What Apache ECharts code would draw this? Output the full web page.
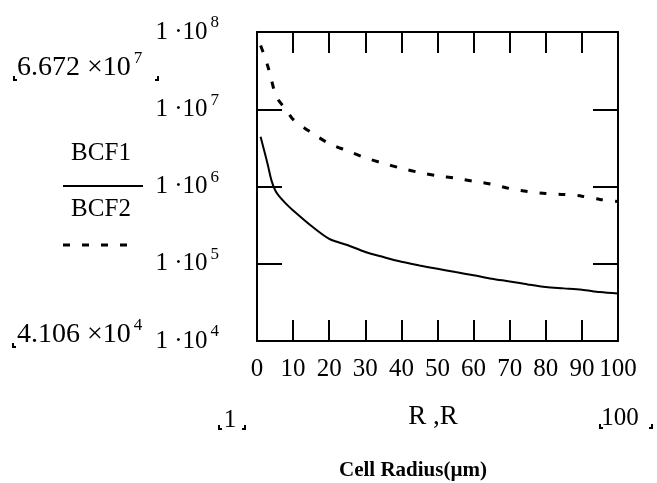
<!DOCTYPE html>
<html>
<head>
<meta charset="utf-8">
<script src="https://cdn.jsdelivr.net/npm/echarts@6/dist/echarts.min.js"></script>
<style>
  html, body { margin: 0; padding: 0; background: #fff; }
  #chart { width: 657px; height: 483px; }
</style>
</head>
<body>
<div id="chart"></div>
<script>
// cell radius (µm)
const rValues = [1, 2, 3, 4, 5, 6, 8, 10, 15, 20, 25, 30, 35, 40, 45, 50, 55, 60, 65, 70, 75, 80, 85, 90, 95, 100]
// BCF1 - solid line
const bcf1 = [4.4e6, 2.9e6, 1.9e6, 1.2e6, 9.0e5, 7.6e5, 6.0e5, 4.9e5, 3.1e5, 2.1e5, 1.75e5, 1.42e5, 1.22e5, 1.06e5, 9.5e4, 8.6e4, 7.8e4, 7.1e4, 6.4e4, 5.9e4, 5.4e4, 5.0e4, 4.8e4, 4.6e4, 4.3e4, 4.106e4]
// BCF2 - dashed line
const bcf2 = [6.672e7, 5.0e7, 3.6e7, 2.4e7, 1.6e7, 1.3e7, 1.0e7, 7.4e6, 5.0e6, 3.6e6, 2.9e6, 2.35e6, 2.0e6, 1.72e6, 1.52e6, 1.38e6, 1.28e6, 1.17e6, 1.07e6, 9.4e5, 8.6e5, 8.1e5, 7.9e5, 7.5e5, 6.8e5, 6.4e5]
const xTicks = [0, 10, 20, 30, 40, 50, 60, 70, 80, 90, 100]

const font = '"Liberation Serif", "DejaVu Serif", serif'
const chart = echarts.init(document.getElementById('chart'))

const pair = (xs, ys) => xs.map((x, i) => [x, ys[i]])

// little corner marks that mathcad puts round range labels
const corner = (x, y, left) => ({
  type: 'polyline',
  shape: { points: left ? [[x, y - 4], [x, y], [x + 3, y]] : [[x - 3, y], [x, y], [x, y - 4]] },
  style: { stroke: '#000', lineWidth: 2, fill: null }
})

const supRich = {
  a: { fontSize: 25, fontFamily: font, color: '#000' },
  s: { fontSize: 17, fontFamily: font, color: '#000', padding: [0, 0, 18, 3] }
}

const option = {
  animation: false,
  backgroundColor: '#fff',
  grid: { left: 257, right: 39, top: 32, bottom: 142 },
  xAxis: [
    {
      type: 'value', min: 0, max: 100, interval: 10,
      axisLine: { onZero: false, lineStyle: { color: '#000', width: 2 } },
      axisTick: { inside: true, length: 21, lineStyle: { color: '#000', width: 2 } },
      axisLabel: {
        margin: 16, color: '#000', fontFamily: font, fontSize: 25,
        formatter: v => xTicks.includes(v) ? String(v) : ''
      },
      splitLine: { show: false }
    },
    {
      type: 'value', position: 'top', min: 0, max: 100, interval: 10,
      axisLine: { onZero: false, lineStyle: { color: '#000', width: 2 } },
      axisTick: { inside: true, length: 21, lineStyle: { color: '#000', width: 2 } },
      axisLabel: { show: false },
      splitLine: { show: false }
    }
  ],
  yAxis: [
    {
      type: 'log', logBase: 10, min: 1e4, max: 1e8, splitNumber: 4,
      axisLine: { show: true, onZero: false, lineStyle: { color: '#000', width: 2 } },
      axisTick: { show: true, inside: true, length: 25, lineStyle: { color: '#000', width: 2 } },
      axisLabel: {
        margin: 38, color: '#000', fontFamily: font,
        formatter: v => '{a|1 ·10}{s|' + Math.round(Math.log10(v)) + '}',
        rich: supRich
      },
      splitLine: { show: false }
    },
    {
      type: 'log', logBase: 10, min: 1e4, max: 1e8, splitNumber: 4, position: 'right',
      axisLine: { show: true, onZero: false, lineStyle: { color: '#000', width: 2 } },
      axisTick: { show: true, inside: true, length: 25, lineStyle: { color: '#000', width: 2 } },
      axisLabel: { show: false },
      splitLine: { show: false }
    }
  ],
  series: [
    {
      name: 'BCF1', type: 'line', smooth: 0.3, showSymbol: false,
      data: pair(rValues, bcf1),
      lineStyle: { color: '#000', width: 2 }
    },
    {
      name: 'BCF2', type: 'line', smooth: 0.3, showSymbol: false,
      data: pair(rValues, bcf2),
      lineStyle: { color: '#000', width: 3, type: [7, 12] }
    }
  ],
  graphic: [
    // data range labels
    {
      type: 'text', left: 17, top: 50,
      style: {
        text: '{a|6.672 ×10}{s|7}', fill: '#000',
        rich: {
          a: { fontSize: 28, fontFamily: font, fill: '#000' },
          s: { fontSize: 17, fontFamily: font, fill: '#000', padding: [0, 0, 18, 3] }
        }
      }
    },
    corner(14, 80, true), corner(158, 80, false),
    {
      type: 'text', left: 17, top: 317,
      style: {
        text: '{a|4.106 ×10}{s|4}', fill: '#000',
        rich: {
          a: { fontSize: 28, fontFamily: font, fill: '#000' },
          s: { fontSize: 17, fontFamily: font, fill: '#000', padding: [0, 0, 18, 3] }
        }
      }
    },
    corner(13, 347, true),
    // legend
    { type: 'text', x: 101, y: 153, style: { text: 'BCF1', fontSize: 25, fontFamily: font, fill: '#000', align: 'center', verticalAlign: 'middle' } },
    { type: 'line', shape: { x1: 63, y1: 186, x2: 143, y2: 186 }, style: { stroke: '#000', lineWidth: 2 } },
    { type: 'text', x: 101, y: 209, style: { text: 'BCF2', fontSize: 25, fontFamily: font, fill: '#000', align: 'center', verticalAlign: 'middle' } },
    { type: 'line', shape: { x1: 63, y1: 245, x2: 128, y2: 245 }, style: { stroke: '#000', lineWidth: 3, lineDash: [7, 12] } },
    // x range + axis name
    { type: 'text', x: 230, y: 420, style: { text: '1', fontSize: 25, fontFamily: font, fill: '#000', align: 'center', verticalAlign: 'middle' } },
    corner(219, 429, true), corner(245, 429, false),
    { type: 'text', x: 433, y: 417, style: { text: 'R ,R', fontSize: 27, fontFamily: font, fill: '#000', align: 'center', verticalAlign: 'middle' } },
    { type: 'text', x: 620, y: 418, style: { text: '100', fontSize: 25, fontFamily: font, fill: '#000', align: 'center', verticalAlign: 'middle' } },
    corner(600, 428, true), corner(652, 428, false),
    { type: 'text', x: 413, y: 471, style: { text: 'Cell Radius(µm)', fontSize: 21, fontWeight: 'bold', fontFamily: font, fill: '#000', align: 'center', verticalAlign: 'middle' } }
  ]
}

chart.setOption(option)
</script>
</body>
</html>
